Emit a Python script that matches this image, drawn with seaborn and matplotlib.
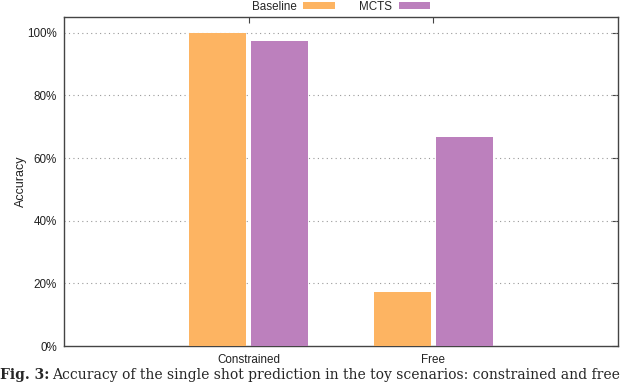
import matplotlib
matplotlib.use("Agg")
import matplotlib.pyplot as plt
import seaborn as sns
import pandas as pd
from matplotlib.patches import Patch
from matplotlib.ticker import FuncFormatter

categories = ["Constrained", "Free"]
methods = ["Baseline", "MCTS"]
baseline_acc = [100.0, 17.2]
mcts_acc = [97.2, 66.7]
yticks = [0, 20, 40, 60, 80, 100]

colors = {"Baseline": "#fdb462", "MCTS": "#bc80bd"}

df = pd.DataFrame({
    "Scenario": categories * 2,
    "Method": ["Baseline"] * len(categories) + ["MCTS"] * len(categories),
    "Accuracy": baseline_acc + mcts_acc,
})

sns.set_theme(style="white")
plt.rcParams["font.family"] = ["Liberation Sans", "DejaVu Sans"]

fig = plt.figure(figsize=(6.4, 3.83), dpi=100)
ax = fig.add_axes([0.1, 0.0966, 0.8656, 0.859])

sns.barplot(data=df, x="Scenario", y="Accuracy", hue="Method",
            order=categories, hue_order=methods, palette=colors,
            width=0.67, gap=0.085, saturation=1, linewidth=0,
            errorbar=None, legend=False, ax=ax, zorder=3)

ax.set_xlim(-1.0, 2.0)
ax.set_ylim(0, 105)
ax.set_yticks(yticks)
ax.yaxis.set_major_formatter(FuncFormatter(lambda v, p: f"{v:.0f}%"))
ax.set_xlabel("")
ax.set_ylabel("Accuracy", fontsize=9, color="#222222")
ax.yaxis.set_label_coords(-0.066, 0.5)

for y in yticks[1:]:
    ax.axhline(y, color="#9a9a9a", lw=0.8, ls=(0, (1, 3)), zorder=1)

for sp in ax.spines.values():
    sp.set_visible(True)
    sp.set_color("#444444")
    sp.set_linewidth(1.0)

ax.tick_params(axis="both", which="major", direction="in", length=4,
               width=0.8, color="#444444", labelsize=8.4, labelcolor="#222222",
               top=True, right=True, pad=5)
ax.tick_params(axis="x", pad=6)

handles = [Patch(facecolor=colors[m], edgecolor="none", label=m) for m in methods]
fig.legend(handles=handles, loc="upper center", bbox_to_anchor=(0.533, 1.026),
           ncol=2, frameon=False, fontsize=8.4, markerfirst=False,
           handlelength=2.7, handleheight=0.45, handletextpad=0.55,
           columnspacing=2.1)

fig.text(0.0, 0.0105, "Fig. 3:", fontsize=10, fontweight="bold",
         family="DejaVu Serif", va="baseline", ha="left")
fig.text(0.082, 0.0105,
         "Accuracy of the single shot prediction in the toy scenarios: constrained and free",
         fontsize=10, family="DejaVu Serif", va="baseline", ha="left")

fig.savefig("out.png", dpi=100)
